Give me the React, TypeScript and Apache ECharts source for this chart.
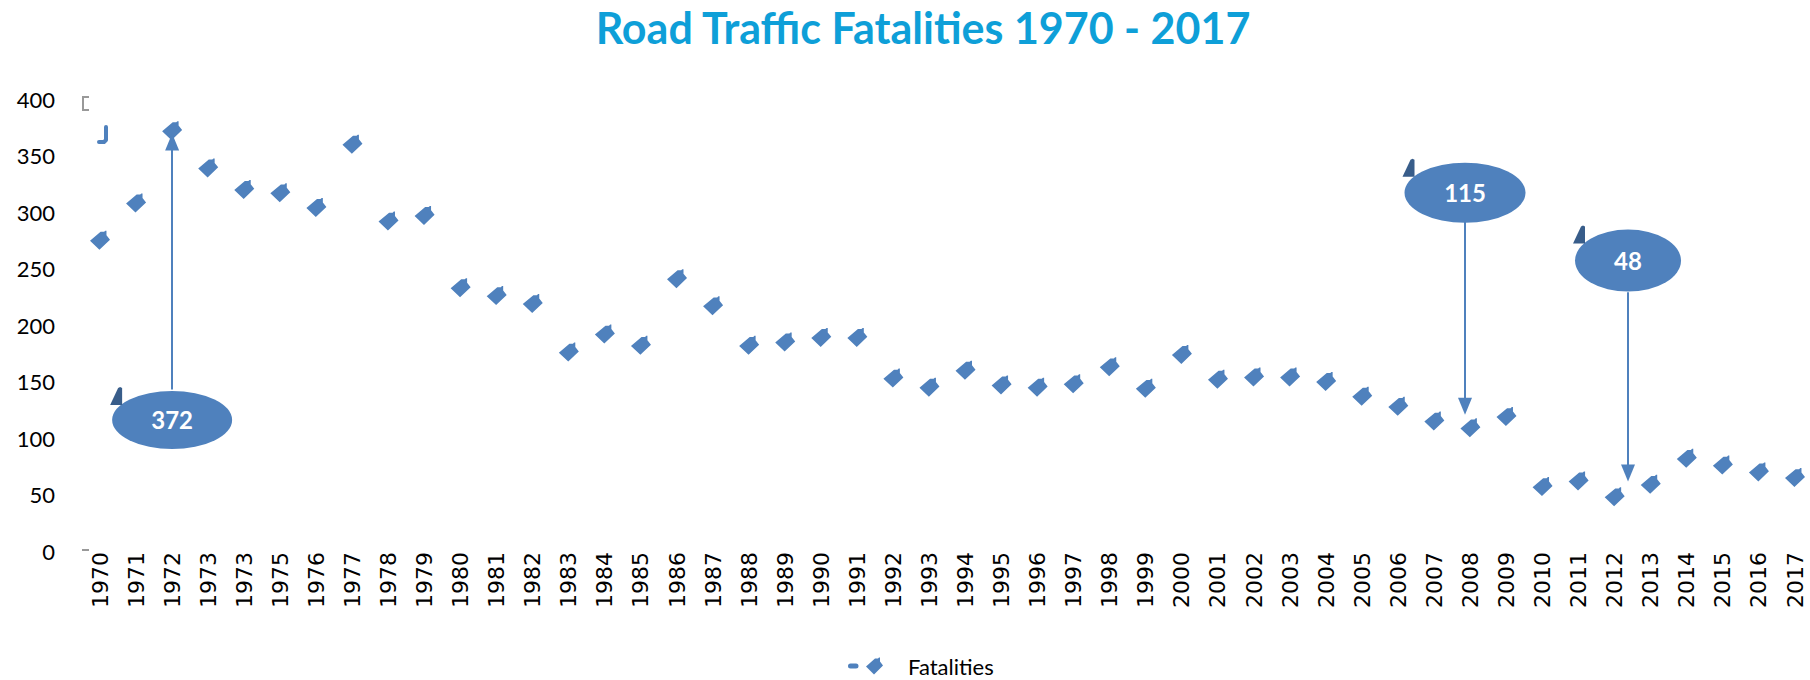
import React, { useEffect, useRef } from "react";
import * as echarts from "echarts";

const years = [
  "1970", "1971", "1972", "1973", "1973", "1975", "1976", "1977", "1978", "1979",
  "1980", "1981", "1982", "1983", "1984", "1985", "1986", "1987", "1988", "1989",
  "1990", "1991", "1992", "1993", "1994", "1995", "1996", "1997", "1998", "1999",
  "2000", "2001", "2002", "2003", "2004", "2005", "2006", "2007", "2008", "2009",
  "2010", "2011", "2012", "2013", "2014", "2015", "2016", "2017",
];

const fatalities = [
  275, 308, 372, 339, 320, 317, 304, 360, 292, 297,
  233, 226, 219, 176, 192, 182, 241, 217, 182, 185,
  189, 189, 153, 145, 160, 147, 145, 148, 163, 144,
  174, 152, 154, 154, 150, 137, 128, 115, 109, 119,
  57, 62, 48, 59, 82, 76, 70, 65,
];

const yTicks = [0, 50, 100, 150, 200, 250, 300, 350, 400];

// callouts (position in category-index / value space)
const calloutText = ["372", "115", "48"];
const calloutX = [2, 37.85, 42.37];
const calloutY = [116, 317, 257];
const calloutArrowFrom = [143, 292, 229];
const calloutArrowTo = [362, 128, 69];
const calloutW = [120, 121, 106];
const calloutH = [58, 60, 62];

const BLUE = "#4F81BD";
const DARK = "#385D8A";
const MARKER =
  "path://M0,9 L9,1 L12,1 L13,0 L14,0 L14,4 L17,8 L8,17 Z";
const LEGEND_ICON =
  "path://M2.5,6 L8,6 A2.5,2.5 0 0,1 8,11 L2.5,11 A2.5,2.5 0 0,1 2.5,6 Z M18,9 L27,1 L30,1 L31,0 L32,0 L32,4 L35,8 L26,17 Z";
const ELLIPSE = "path://M0,1 A1,1 0 1,1 2,1 A1,1 0 1,1 0,1 Z";
const TAB = "path://M0,18 L8,1 L10,0 L12,1 L12,18 Z";

export default function App() {
  const ref = useRef<HTMLDivElement>(null);
  useEffect(() => {
    if (!ref.current) return;
    const chart = echarts.init(ref.current, undefined, { renderer: "svg" });
    const option: any = {
      animation: false,
      backgroundColor: "#ffffff",
      title: {
        text: "Road Traffic Fatalities 1970 - 2017",
        left: 923,
        top: 6,
        padding: 0,
        textAlign: "center",
        textStyle: {
          fontFamily: "Lato",
          fontWeight: "bold",
          fontSize: 43,
          color: "#0E9FD8",
        },
      },
      legend: {
        data: [{ name: "Fatalities", icon: LEGEND_ICON }],
        left: 848,
        top: 655,
        padding: 0,
        itemWidth: 35,
        itemHeight: 17,
        textStyle: {
          fontFamily: "Lato",
          fontSize: 22,
          lineHeight: 22,
          color: "#000",
          padding: [0, 0, 0, 20],
        },
      },
      grid: { left: 100, right: 15, top: 99, bottom: 129, containLabel: false },
      xAxis: [
        {
          type: "category",
          data: years,
          boundaryGap: false,
          axisLine: { show: false },
          axisTick: { show: false },
          splitLine: { show: false },
          axisLabel: {
            interval: 0,
            rotate: 90,
            margin: 1,
            fontFamily: "DejaVu Sans",
            fontSize: 22,
            color: "#000",
          },
        },
        {
          type: "value",
          min: 0,
          max: years.length - 1,
          show: false,
        },
      ],
      yAxis: {
        type: "value",
        min: yTicks[0],
        max: yTicks[yTicks.length - 1],
        interval: 50,
        axisLine: { show: false },
        axisTick: { show: false },
        splitLine: { show: false },
        axisLabel: {
          margin: 45,
          fontFamily: "Lato",
          fontSize: 22,
          color: "#000",
        },
      },
      series: [
        {
          name: "Fatalities",
          type: "scatter",
          data: fatalities,
          symbol: MARKER,
          symbolSize: [20, 19],
          itemStyle: { color: BLUE, opacity: 1 },
          z: 3,
        },
        {
          name: "callouts",
          type: "scatter",
          xAxisIndex: 1,
          z: 4,
          data: calloutText.map((t, i) => ({
            value: [calloutX[i], calloutY[i]],
            symbolSize: [calloutW[i], calloutH[i]],
            label: { formatter: t },
          })),
          symbol: ELLIPSE,
          itemStyle: { color: BLUE, opacity: 1 },
          label: {
            show: true,
            position: "inside",
            color: "#fff",
            fontFamily: "Lato",
            fontWeight: "bold",
            fontSize: 24,
          },
          markLine: {
            silent: true,
            symbol: ["none", "triangle"],
            symbolSize: [14, 17],
            label: { show: false },
            lineStyle: { color: BLUE, width: 2, type: "solid", opacity: 1 },
            itemStyle: { color: BLUE },
            data: calloutText.map((_, i) => [
              { coord: [calloutX[i], calloutArrowFrom[i]] },
              { coord: [calloutX[i], calloutArrowTo[i]] },
            ]),
          },
        },
        {
          name: "tabs",
          type: "scatter",
          xAxisIndex: 1,
          z: 5,
          symbol: TAB,
          itemStyle: { color: DARK, opacity: 1 },
          data: calloutText.map((_, i) => ({
            value: [calloutX[i], calloutY[i]],
            symbolSize: [12, 18],
            symbolOffset: [-calloutW[i] / 2 + 4, -calloutH[i] / 2 + 5],
          })),
        },
      ],
      graphic: [
        {
          type: "polyline",
          shape: { points: [[89, 97], [83, 97], [83, 110], [89, 110]] },
          style: { stroke: "#999", lineWidth: 2, fill: "none" },
        },
        {
          type: "polyline",
          shape: { points: [[106, 127], [106, 140], [104, 142], [99, 142]] },
          style: { stroke: BLUE, lineWidth: 4, fill: "none", lineCap: "round", lineJoin: "round" },
        },
        {
          type: "rect",
          shape: { x: 82, y: 549, width: 7, height: 2 },
          style: { fill: "#999" },
        },
      ],
    };
    chart.setOption(option);
    return () => chart.dispose();
  }, []);
  return (
    <div
      ref={ref}
      style={{ position: "absolute", left: 0, top: 0, width: 1810, height: 680 }}
    />
  );
}
